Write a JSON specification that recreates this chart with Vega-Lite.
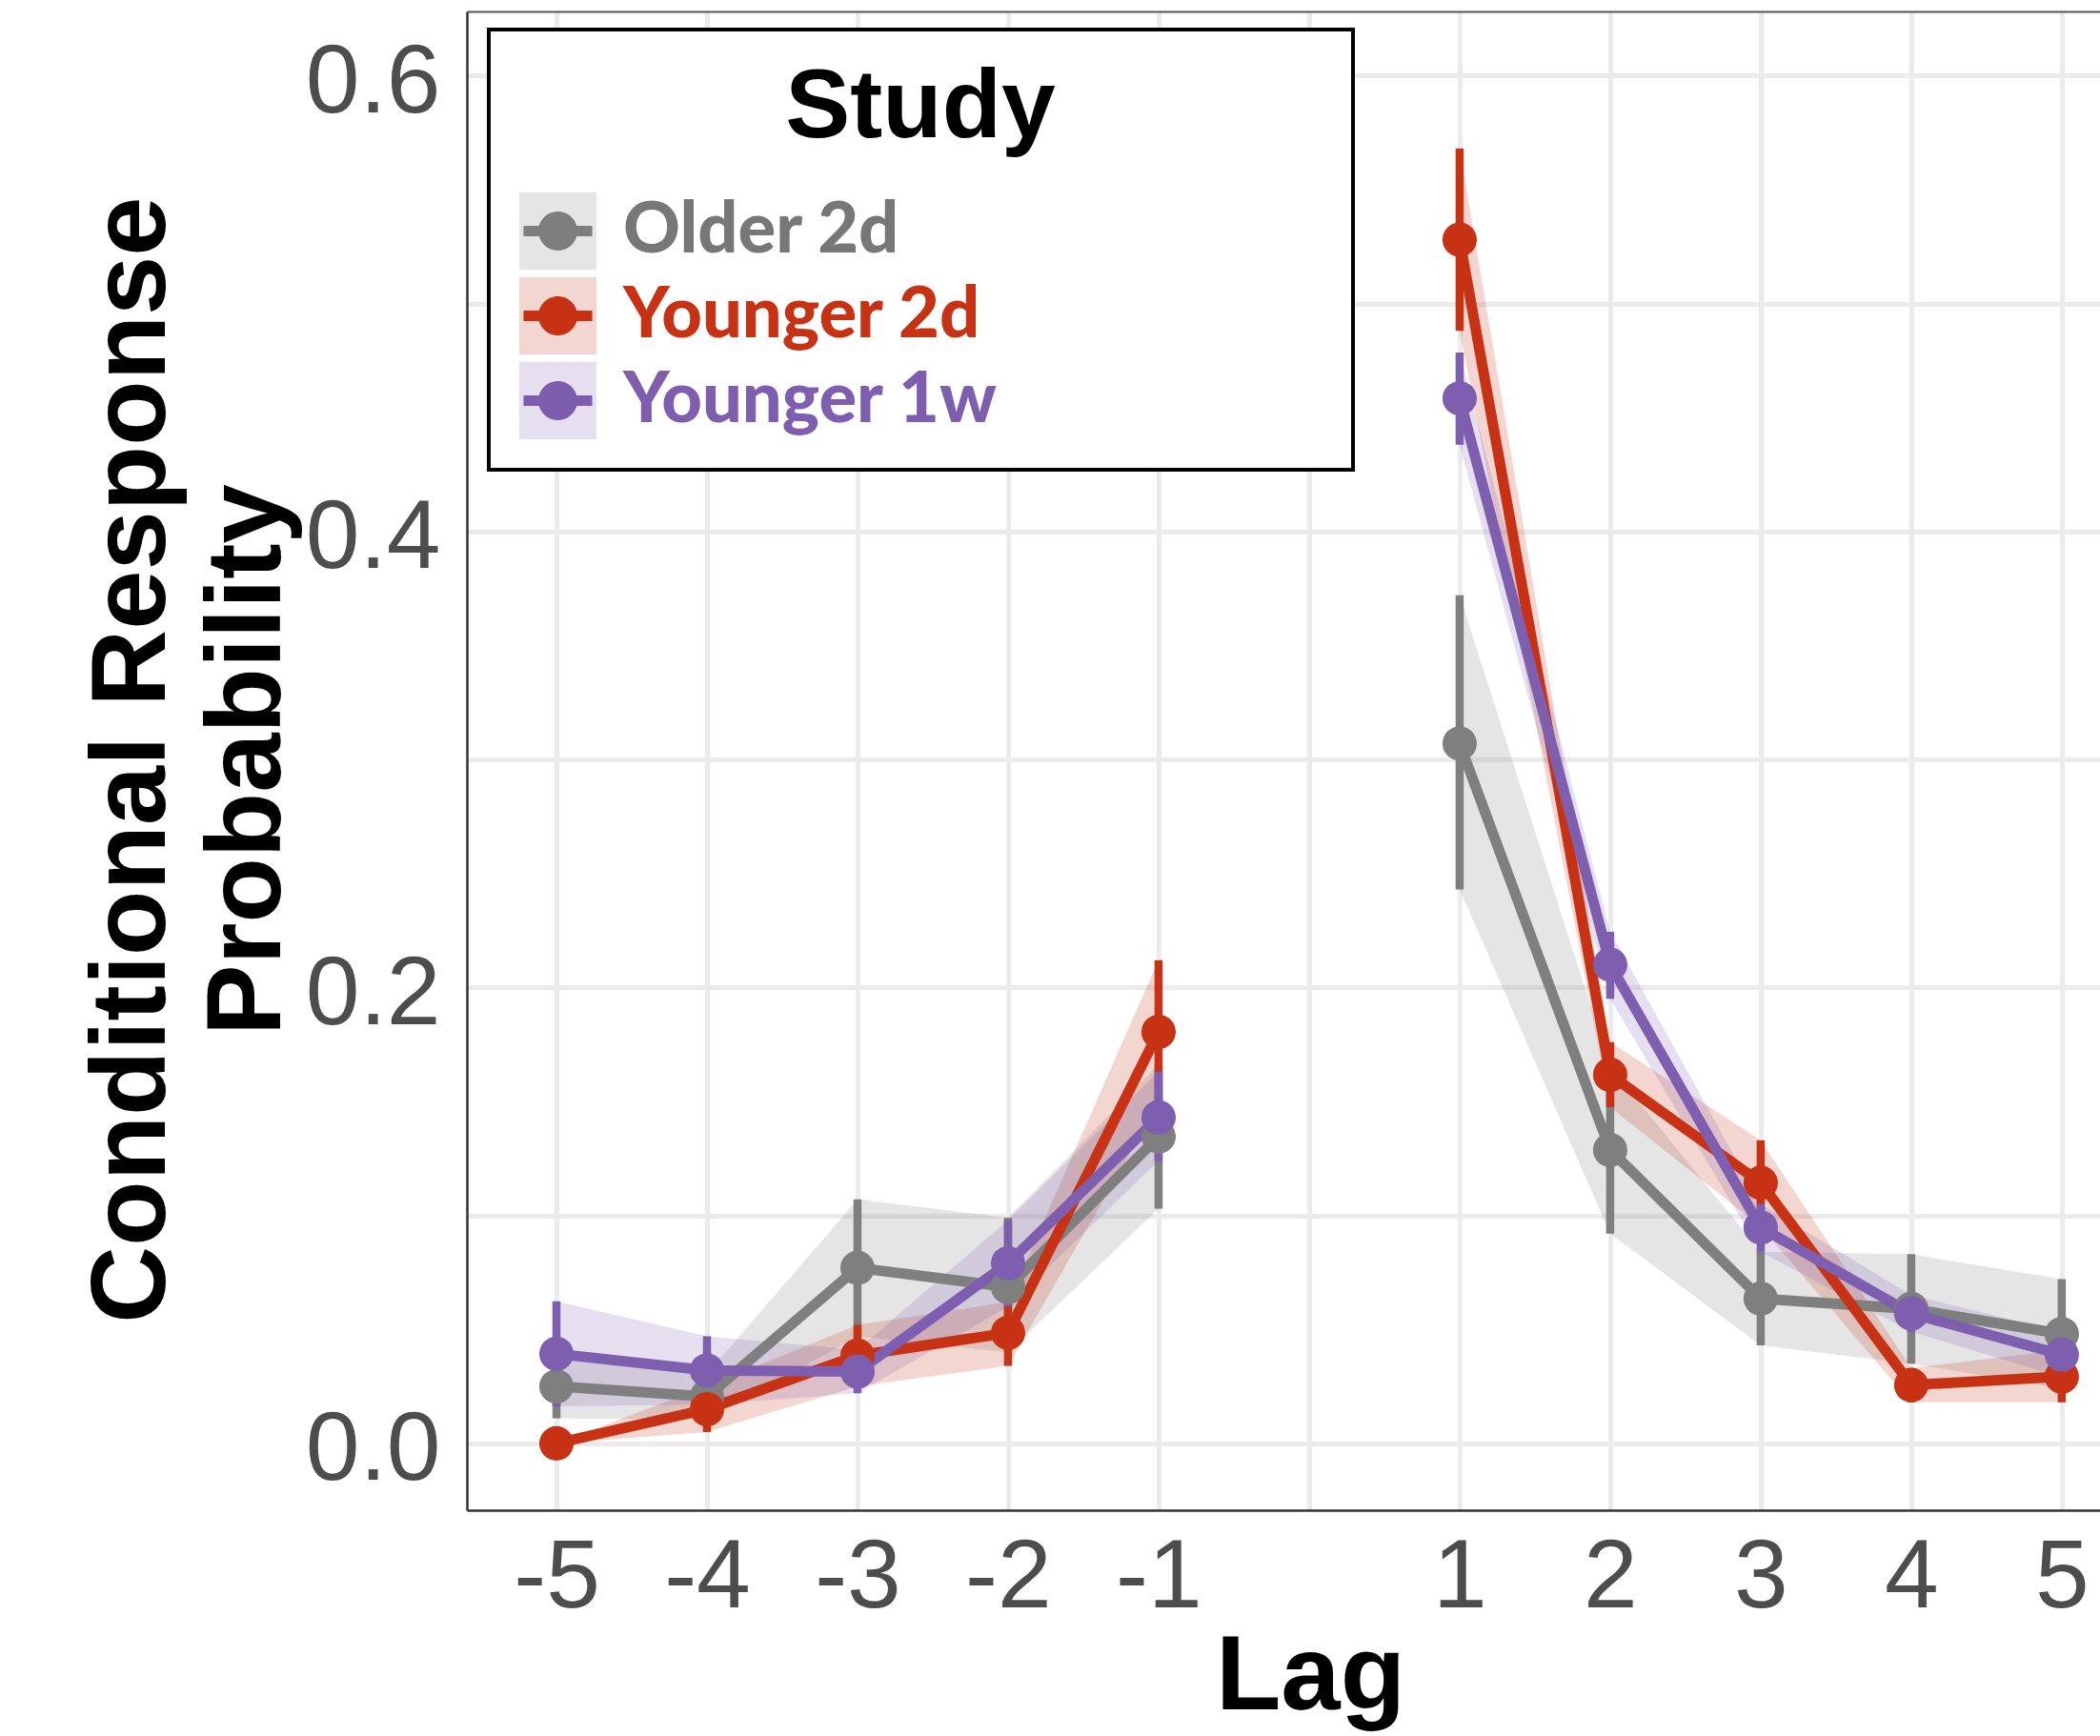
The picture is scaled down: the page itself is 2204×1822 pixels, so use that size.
{
  "$schema": "https://vega.github.io/schema/vega-lite/v6.json",
  "autosize": "none",
  "width": 1714,
  "height": 1573,
  "padding": {"left": 490, "top": 12, "right": 0, "bottom": 237},
  "background": "#ffffff",
  "data": {
    "values": [
      {"lag": -5, "study": "Older 2d", "mean": 0.025, "lo": 0.011, "hi": 0.039},
      {"lag": -4, "study": "Older 2d", "mean": 0.0205, "lo": 0.0105, "hi": 0.0305},
      {"lag": -3, "study": "Older 2d", "mean": 0.077, "lo": 0.047, "hi": 0.107},
      {"lag": -2, "study": "Older 2d", "mean": 0.0686, "lo": 0.040, "hi": 0.099},
      {"lag": -1, "study": "Older 2d", "mean": 0.1346, "lo": 0.103, "hi": 0.166},
      {"lag": 1, "study": "Older 2d", "mean": 0.307, "lo": 0.243, "hi": 0.372},
      {"lag": 2, "study": "Older 2d", "mean": 0.1287, "lo": 0.092, "hi": 0.165},
      {"lag": 3, "study": "Older 2d", "mean": 0.0635, "lo": 0.043, "hi": 0.084},
      {"lag": 4, "study": "Older 2d", "mean": 0.059, "lo": 0.035, "hi": 0.083},
      {"lag": 5, "study": "Older 2d", "mean": 0.048, "lo": 0.024, "hi": 0.072},
      {"lag": -5, "study": "Younger 2d", "mean": 0.0, "lo": 0.0, "hi": 0.0},
      {"lag": -4, "study": "Younger 2d", "mean": 0.015, "lo": 0.005, "hi": 0.025},
      {"lag": -3, "study": "Younger 2d", "mean": 0.0385, "lo": 0.025, "hi": 0.052},
      {"lag": -2, "study": "Younger 2d", "mean": 0.0485, "lo": 0.034, "hi": 0.062},
      {"lag": -1, "study": "Younger 2d", "mean": 0.1805, "lo": 0.149, "hi": 0.212},
      {"lag": 1, "study": "Younger 2d", "mean": 0.528, "lo": 0.488, "hi": 0.568},
      {"lag": 2, "study": "Younger 2d", "mean": 0.1617, "lo": 0.1475, "hi": 0.176},
      {"lag": 3, "study": "Younger 2d", "mean": 0.1143, "lo": 0.095, "hi": 0.133},
      {"lag": 4, "study": "Younger 2d", "mean": 0.0256, "lo": 0.018, "hi": 0.033},
      {"lag": 5, "study": "Younger 2d", "mean": 0.0293, "lo": 0.018, "hi": 0.041},
      {"lag": -5, "study": "Younger 1w", "mean": 0.0393, "lo": 0.0163, "hi": 0.0623},
      {"lag": -4, "study": "Younger 1w", "mean": 0.032, "lo": 0.017, "hi": 0.047},
      {"lag": -3, "study": "Younger 1w", "mean": 0.0315, "lo": 0.022, "hi": 0.041},
      {"lag": -2, "study": "Younger 1w", "mean": 0.079, "lo": 0.060, "hi": 0.098},
      {"lag": -1, "study": "Younger 1w", "mean": 0.143, "lo": 0.124, "hi": 0.163},
      {"lag": 1, "study": "Younger 1w", "mean": 0.4584, "lo": 0.438, "hi": 0.4785},
      {"lag": 2, "study": "Younger 1w", "mean": 0.21, "lo": 0.195, "hi": 0.2244},
      {"lag": 3, "study": "Younger 1w", "mean": 0.0947, "lo": 0.084, "hi": 0.105},
      {"lag": 4, "study": "Younger 1w", "mean": 0.057, "lo": 0.049, "hi": 0.065},
      {"lag": 5, "study": "Younger 1w", "mean": 0.0389, "lo": 0.029, "hi": 0.049}
    ]
  },
  "resolve": {"axis": {"x": "independent"}},
  "layer": [
    {
      "transform": [{"filter": "datum.lag < 0"}],
      "mark": {"type": "area", "opacity": 0.2},
      "encoding": {
        "x": {"field": "lag", "type": "quantitative", "title": "Lag",
              "scale": {"domain": [-5.595, 5.254], "nice": false, "zero": false},
              "axis": {"values": [-5, -4, -3, -2, -1, 0, 1, 2, 3, 4, 5], "labelExpr": "datum.value == 0 ? '' : '' + datum.value"}},
        "y": {"field": "lo", "type": "quantitative", "title": ["Conditional Response", "Probability"],
              "scale": {"domain": [-0.0293, 0.6281], "nice": false, "zero": false},
              "axis": {"values": [0, 0.1, 0.2, 0.3, 0.4, 0.5, 0.6], "labelExpr": "round(datum.value*10) % 2 == 1 ? '' : format(datum.value, '.1f')"}},
        "y2": {"field": "hi"},
        "color": {"field": "study", "type": "nominal",
                  "scale": {"domain": ["Older 2d", "Younger 2d", "Younger 1w"], "range": ["#7f7f7f", "#c83214", "#7e5eae"]},
                  "legend": {
                    "title": null,
                    "orient": "none", "legendX": 23, "legendY": 158,
                    "padding": 32,
                    "symbolType": "square", "symbolSize": 6561, "symbolOpacity": 0.2, "symbolStrokeWidth": 0,
                    "labelFont": "Lato", "labelFontSize": 74, "labelFontWeight": 900, "labelLimit": 2000, "labelOffset": 28,
                    "labelColor": {"expr": "datum.value == 'Older 2d' ? '#777777' : datum.value == 'Younger 2d' ? '#c83214' : '#7e5eae'"},
                    "rowPadding": 8, "zindex": 2
                  }}
      }
    },
    {
      "transform": [{"filter": "datum.lag > 0"}],
      "mark": {"type": "area", "opacity": 0.2},
      "encoding": {
        "x": {"field": "lag", "type": "quantitative", "axis": null},
        "y": {"field": "lo", "type": "quantitative", "title": ["Conditional Response", "Probability"]},
        "y2": {"field": "hi"},
        "color": {"field": "study", "type": "nominal"}
      }
    },
    {
      "transform": [{"filter": "datum.lag < 0"}],
      "mark": {"type": "line", "strokeWidth": 11, "strokeJoin": "round"},
      "encoding": {
        "x": {"field": "lag", "type": "quantitative", "axis": null},
        "y": {"field": "mean", "type": "quantitative", "title": ["Conditional Response", "Probability"]},
        "stroke": {"field": "study", "type": "nominal", "legend": null,
                   "scale": {"domain": ["Older 2d", "Younger 2d", "Younger 1w"], "range": ["#7f7f7f", "#c83214", "#7e5eae"]}}
      }
    },
    {
      "transform": [{"filter": "datum.lag > 0"}],
      "mark": {"type": "line", "strokeWidth": 11, "strokeJoin": "round"},
      "encoding": {
        "x": {"field": "lag", "type": "quantitative", "axis": null},
        "y": {"field": "mean", "type": "quantitative", "title": ["Conditional Response", "Probability"]},
        "stroke": {"field": "study", "type": "nominal", "legend": null}
      }
    },
    {
      "mark": {"type": "rule", "strokeWidth": 8.5},
      "encoding": {
        "x": {"field": "lag", "type": "quantitative", "axis": null},
        "y": {"field": "lo", "type": "quantitative", "title": ["Conditional Response", "Probability"]},
        "y2": {"field": "hi"},
        "stroke": {"field": "study", "type": "nominal", "legend": null}
      }
    },
    {
      "mark": {"type": "point", "filled": true, "opacity": 1, "strokeWidth": 0, "size": 1300},
      "encoding": {
        "x": {"field": "lag", "type": "quantitative",
              "axis": {"orient": "top", "labels": false, "grid": false, "ticks": false, "title": null, "domain": true, "domainColor": "#555555", "domainWidth": 2}},
        "y": {"field": "mean", "type": "quantitative", "title": ["Conditional Response", "Probability"]},
        "fill": {"field": "study", "type": "nominal",
                 "sort": ["Older 2d", "Younger 2d", "Younger 1w"],
                 "scale": {"range": ["#7f7f7f", "#c83214", "#7e5eae"]},
                 "legend": {
                   "title": "Study", "orient": "none", "legendX": 23, "legendY": 19, "padding": 32,
                   "strokeColor": "#000000", "fillColor": "#ffffff",
                   "titleFont": "Liberation Sans", "titleFontSize": 102, "titleFontWeight": "bold", "titleColor": "#000000",
                   "titleLimit": 3000, "titlePadding": 37, "titleAnchor": "middle",
                   "symbolType": "M-0.89,-0.136L0.89,-0.136L0.89,0.136L-0.89,0.136Z M0.506,0A0.506,0.506,0,1,1,-0.506,0A0.506,0.506,0,1,1,0.506,0Z M-1,-1Z M1,1Z M19.81,0Z",
                   "symbolSize": 6561, "symbolOpacity": 1, "symbolStrokeWidth": 0,
                   "labelExpr": "''", "labelFontSize": 74, "rowPadding": 8, "zindex": 1
                 }}
      }
    }
  ],
  "config": {
    "view": {"stroke": null},
    "legend": {"strokeWidth": 4},
    "axis": {
      "domain": true, "domainColor": "#333333", "domainWidth": 2.5,
      "ticks": false, "tickSize": 0,
      "gridColor": "#ebebeb", "gridWidth": 5,
      "labelFont": "Liberation Sans", "labelFontSize": 102, "labelColor": "#4d4d4d",
      "labelOverlap": false, "labelFlush": false,
      "titleFont": "Liberation Sans", "titleFontWeight": "bold", "titleFontSize": 112, "titleColor": "#000000"
    },
    "axisX": {
      "labelPadding": 20, "labelBaseline": "top",
      "titleX": 885, "titleY": 208, "titleAlign": "center", "titleBaseline": "alphabetic"
    },
    "axisY": {
      "labelPadding": 28, "labelBaseline": "middle", "labelOffset": 7,
      "titleX": -318, "titleY": 785, "titleAngle": 270, "titleAlign": "center", "titleBaseline": "alphabetic", "titleLineHeight": 121
    }
  }
}
